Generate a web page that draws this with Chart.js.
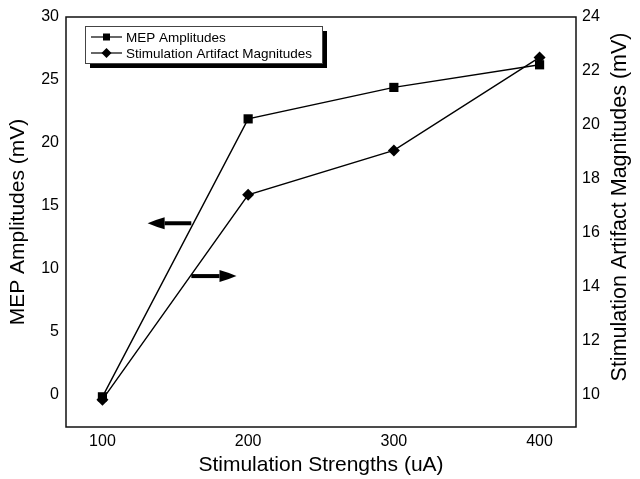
<!DOCTYPE html>
<html>
<head>
<meta charset="utf-8">
<script src="https://cdn.jsdelivr.net/npm/chart.js@4"></script>
<style>
  html, body { margin: 0; padding: 0; background: #fff; }
  #wrap { width: 640px; height: 479px; }
</style>
</head>
<body>
<div id="wrap"><canvas id="chart" width="640" height="479"></canvas></div>
<script>
// --- data ---
const strengths = [100, 200, 300, 400];
const mepAmplitudes = [-0.2, 21.9, 24.4, 26.2];
const artifactMagnitudes = [9.8, 17.4, 19.05, 22.5];

const xTicks = [100, 200, 300, 400];
const leftTicks = [0, 5, 10, 15, 20, 25, 30];
const rightTicks = [10, 12, 14, 16, 18, 20, 22, 24];

const seriesNames = ['MEP Amplitudes', 'Stimulation Artifact Magnitudes'];
const xTitle = 'Stimulation Strengths (uA)';
const leftTitle = 'MEP Amplitudes (mV)';
const rightTitle = 'Stimulation Artifact Magnitudes (mV)';

// arrows: [x start, x tip] in uA, y in mV on the left axis
const arrowToLeft = { x: [161, 131], y: 13.6 };
const arrowToRight = { x: [161, 192], y: 9.4 };

const FONT = '"Liberation Sans", Arial, sans-serif';
const leftMin = -2.6;
const rightMin = 10 + leftMin * 14 / 30;

// draws the frame, legend box, arrows and right title
const extras = {
    id: 'extras',
    afterDraw(chart) {
        const ctx = chart.ctx;
        const a = chart.chartArea;
        const xs = chart.scales.x, ys = chart.scales.y;

        ctx.save();
        // plot frame
        ctx.strokeStyle = '#111';
        ctx.lineWidth = 1.5;
        ctx.strokeRect(a.left, a.top, a.right - a.left, a.bottom - a.top);

        // arrows
        function arrow(def) {
            const x0 = xs.getPixelForValue(def.x[0]);
            const x1 = xs.getPixelForValue(def.x[1]);
            const y = ys.getPixelForValue(def.y);
            const dir = Math.sign(x1 - x0);
            const headLen = 17, headHalf = 6;
            ctx.strokeStyle = '#000';
            ctx.lineWidth = 4;
            ctx.beginPath();
            ctx.moveTo(x0, y);
            ctx.lineTo(x1 - dir * headLen, y);
            ctx.stroke();
            ctx.fillStyle = '#000';
            ctx.beginPath();
            ctx.moveTo(x1, y);
            ctx.quadraticCurveTo(x1 - dir * headLen * 0.5, y - headHalf * 0.6, x1 - dir * headLen, y - headHalf);
            ctx.lineTo(x1 - dir * headLen, y + headHalf);
            ctx.quadraticCurveTo(x1 - dir * headLen * 0.5, y + headHalf * 0.6, x1, y);
            ctx.fill();
        }
        arrow(arrowToLeft);
        arrow(arrowToRight);

        // legend with drop shadow
        const lx = a.left + 19, ly = a.top + 9, lw = 237, lh = 37;
        ctx.fillStyle = '#000';
        ctx.fillRect(lx + 5, ly + 5, lw, lh);
        ctx.fillStyle = '#fff';
        ctx.fillRect(lx, ly, lw, lh);
        ctx.strokeStyle = '#444';
        ctx.lineWidth = 1;
        ctx.strokeRect(lx + 0.5, ly + 0.5, lw, lh);

        ctx.font = '13.5px ' + FONT;
        ctx.textBaseline = 'middle';
        ctx.textAlign = 'left';
        seriesNames.forEach((name, i) => {
            const cy = ly + 11 + i * 16;
            const sx = lx + 6, ex = lx + 37, mx = (sx + ex) / 2;
            ctx.strokeStyle = '#000';
            ctx.lineWidth = 1.2;
            ctx.beginPath();
            ctx.moveTo(sx, cy);
            ctx.lineTo(ex, cy);
            ctx.stroke();
            ctx.fillStyle = '#000';
            ctx.beginPath();
            if (i === 0) {
                ctx.rect(mx - 3.5, cy - 3.5, 7, 7);
            } else {
                ctx.moveTo(mx, cy - 5);
                ctx.lineTo(mx + 5, cy);
                ctx.lineTo(mx, cy + 5);
                ctx.lineTo(mx - 5, cy);
                ctx.closePath();
            }
            ctx.fill();
            ctx.fillText(name, lx + 41, cy + 1);
        });

        // right axis title, reading bottom to top
        ctx.translate(620, (a.top + a.bottom) / 2 - 15);
        ctx.rotate(-Math.PI / 2);
        ctx.font = '21.5px ' + FONT;
        ctx.textAlign = 'center';
        ctx.textBaseline = 'middle';
        ctx.fillStyle = '#000';
        ctx.fillText(rightTitle, 0, 0);
        ctx.restore();
    }
};

new Chart(document.getElementById('chart'), {
    type: 'line',
    data: {
        datasets: [
            {
                label: seriesNames[0],
                data: strengths.map((s, i) => ({ x: s, y: mepAmplitudes[i] })),
                yAxisID: 'y',
                borderColor: '#000',
                borderWidth: 1.4,
                backgroundColor: '#000',
                pointStyle: 'rect',
                pointRadius: 6.5,
                pointBorderWidth: 0,
                tension: 0
            },
            {
                label: seriesNames[1],
                data: strengths.map((s, i) => ({ x: s, y: artifactMagnitudes[i] })),
                yAxisID: 'y2',
                borderColor: '#000',
                borderWidth: 1.4,
                backgroundColor: '#000',
                pointStyle: 'rectRot',
                pointRadius: 6,
                pointBorderWidth: 0,
                tension: 0
            }
        ]
    },
    options: {
        responsive: false,
        animation: false,
        layout: { padding: { top: 17, left: 0, right: 0, bottom: 0 } },
        plugins: { legend: { display: false }, tooltip: { enabled: false } },
        scales: {
            x: {
                type: 'linear',
                min: 75,
                max: 425,
                afterBuildTicks: s => { s.ticks = xTicks.map(v => ({ value: v })); },
                afterFit: s => { s.height = 52; },
                grid: { display: false, drawTicks: false },
                border: { display: false },
                ticks: { color: '#000', font: { family: FONT, size: 16 }, padding: 5 },
                title: { display: true, text: xTitle, color: '#000', font: { family: FONT, size: 21 }, padding: { top: 0, bottom: 1 } }
            },
            y: {
                position: 'left',
                min: leftMin,
                max: 30,
                afterBuildTicks: s => { s.ticks = leftTicks.map(v => ({ value: v })); },
                afterFit: s => { s.width = 66; },
                grid: { display: false, drawTicks: false },
                border: { display: false },
                ticks: { color: '#000', font: { family: FONT, size: 16 }, padding: 7 },
                title: { display: true, text: leftTitle, color: '#000', font: { family: FONT, size: 21 }, padding: { top: 6, bottom: 0 } }
            },
            y2: {
                position: 'right',
                min: rightMin,
                max: 24,
                afterBuildTicks: s => { s.ticks = rightTicks.map(v => ({ value: v })); },
                afterFit: s => { s.width = 64; },
                grid: { display: false, drawTicks: false },
                border: { display: false },
                ticks: { color: '#000', font: { family: FONT, size: 16 }, padding: 6 }
            }
        }
    },
    plugins: [extras]
});
</script>
</body>
</html>
